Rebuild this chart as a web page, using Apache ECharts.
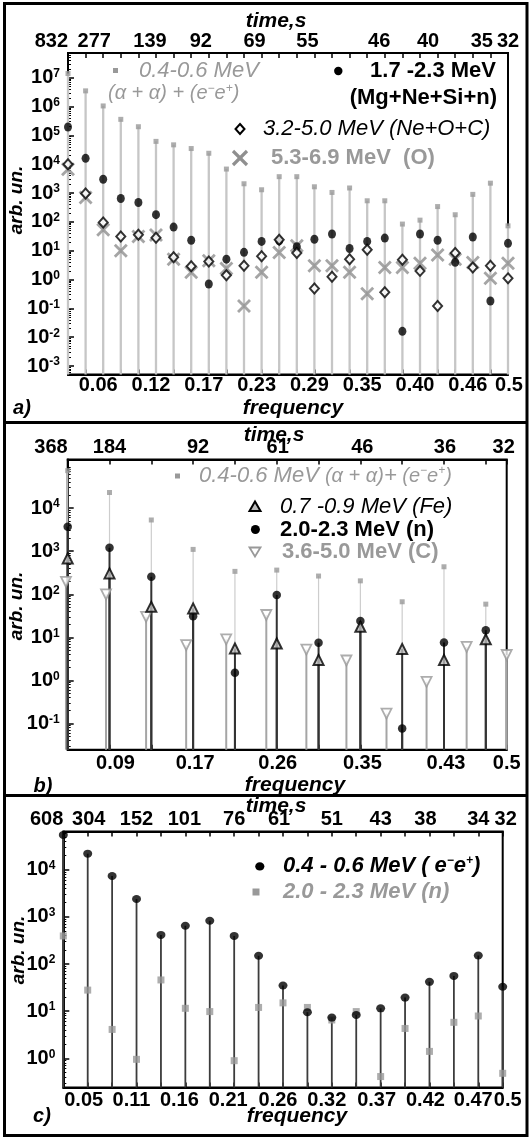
<!DOCTYPE html>
<html><head><meta charset="utf-8">
<script src="https://cdn.jsdelivr.net/npm/echarts@6/dist/echarts.min.js"></script>
<style>html,body{margin:0;padding:0;background:#fff}#c{width:529px;height:1138px}</style>
</head><body><div id="c"></div>
<script>
const FF = '"Liberation Sans", Arial, Helvetica, sans-serif';

// ---------- Panel a ----------
const freqA = [0.01923, 0.03846, 0.05769, 0.07692, 0.09615, 0.11538, 0.13462, 0.15385, 0.17308, 0.19231, 0.21154, 0.23077, 0.25, 0.26923, 0.28846, 0.30769, 0.32692, 0.34615, 0.36538, 0.38462, 0.40385, 0.42308, 0.44231, 0.46154, 0.48077, 0.5];
const a_ee = [1.4e7, 3.5e6, 1.05e6, 3.6e5, 2.0e5, 6.2e4, 4.7e4, 3.5e4, 2.4e4, 6.8e3, 2.1e3, 1.3e3, 3.7e3, 3.7e3, 1.65e3, 1.05e3, 1.5e3, 540, 540, 84, 115, 340, 177, 900, 2200, 73];
const a_mg = [1.96e5, 1.6e4, 3.0e3, 650, 470, 178, 66, 23, 0.7, 5.1, 8.8, 21, 22, 13.7, 25, 38, 12, 21, 27.5, 0.016, 38, 23, 4.0, 30, 0.18, 18];
const a_ne = [1e4, 960, 96, 31, 36, 28, 5.9, 2.9, 4.2, 1.4, 3.0, 6.4, 24, 8.3, 0.49, 1.25, 5.1, 10.9, 0.36, 4.9, 2.0, 0.12, 8.3, 2.6, 3.0, 1.1];
const a_o = [6.7e3, 700, 53, 10, 31, 35, 5.1, 1.8, 4.5, 2.4, 0.12, 1.8, 8.7, 14.8, 3.0, 3.0, 1.8, 0.32, 2.6, 2.6, 3.7, 7.1, 5.1, 3.9, 1.1, 3.7];
const a_botPos = [0.05769, 0.11538, 0.17308, 0.23077, 0.28846, 0.34615, 0.40385, 0.46154, 0.5];
const a_botLab = ['0.06', '0.12', '0.17', '0.23', '0.29', '0.35', '0.40', '0.46', '0.5'];
const a_topPos = [0.01923, 0.05769, 0.11538, 0.17308, 0.23077, 0.28846, 0.34615, 0.40385, 0.46154, 0.5];
const a_topLab = ['832', '277', '139', '92', '69', '55', '46', '40', '35', '32'];
const a_dec = [1e-3, 1e-2, 1e-1, 1, 10, 100, 1e3, 1e4, 1e5, 1e6, 1e7];

// ---------- Panel b ----------
const freqB = [0.04348, 0.08696, 0.13043, 0.17391, 0.21739, 0.26087, 0.30435, 0.34783, 0.3913, 0.43478, 0.47826];
const freqBC = [0.04167, 0.08333, 0.125, 0.16667, 0.20833, 0.25, 0.29167, 0.33333, 0.375, 0.41667, 0.45833, 0.5];
const b_ee = [7.4e4, 2.3e4, 5.3e3, 1.1e3, 340, 364, 265, 205, 67, 435, 59];
const b_fe = [680, 305, 51, 47, 5.5, 7.2, 3.0, 17.6, 5.4, 3.0, 9.0];
const b_n = [3.7e3, 1.2e3, 255, 31, 1.5, 96, 7.5, 24, 0.077, 7.6, 14.7];
const b_c = [195, 99, 30, 6.6, 9.0, 33, 5.2, 2.9, 0.17, 0.93, 6.0, 3.9];
const b_botPos = [0.08696, 0.17391, 0.26087, 0.34783, 0.43478, 0.5];
const b_botLab = ['0.09', '0.17', '0.26', '0.35', '0.43', '0.5'];
const b_topPos = [0.04348, 0.08696, 0.17391, 0.26087, 0.34783, 0.43478, 0.5];
const b_topLab = ['368', '184', '92', '61', '46', '36', '32'];
const b_dec = [0.1, 1, 10, 100, 1e3, 1e4];

// ---------- Panel c ----------
const freqC = [0.02632, 0.05263, 0.07895, 0.10526, 0.13158, 0.15789, 0.18421, 0.21053, 0.23684, 0.26316, 0.28947, 0.31579, 0.34211, 0.36842, 0.39474, 0.42105, 0.44737, 0.47368, 0.5];
const c_ee = [5.5e4, 2.2e4, 7.4e3, 2.4e3, 415, 650, 830, 395, 150, 35, 9.5, 7.3, 8.3, 11.5, 19.4, 42, 56, 152, 33];
const c_n = [395, 28, 4.1, 0.95, 46, 11.5, 9.8, 0.89, 12, 15, 12, 6.5, 9.8, 0.41, 4.3, 1.4, 5.8, 7.9, 0.48];
const c_botPos = [0.05263, 0.10526, 0.15789, 0.21053, 0.26316, 0.31579, 0.36842, 0.42105, 0.47368, 0.5];
const c_botLab = ['0.05', '0.11', '0.16', '0.21', '0.26', '0.32', '0.37', '0.42', '0.47', '0.5'];
const c_topPos = [0.02632, 0.05263, 0.10526, 0.15789, 0.21053, 0.26316, 0.31579, 0.36842, 0.42105, 0.47368, 0.5];
const c_topLab = ['608', '304', '152', '101', '76', '61', '51', '43', '38', '34', '32'];
const c_dec = [1, 10, 100, 1e3, 1e4];

// label nudges in px (layout only)
const a_botShift = [-5, -5, -5, -5, -5, -5, -5, -5, 1];
const a_topShift = [0, -9, -6, -8, -7, -7, 12, 8, 9, 0];
const b_botShift = [6, 2, 1, 2, 2, 0];
const b_topShift = [0, 0, 5, 1, 2, 1, -3];
const c_botShift = [-4, -5, -6, -6, -5, -5, -4, -4, -5, 5];
const c_topShift = [0, 1, 0, -1, 0, -4, 0, 0, -4, 0, 3];

// ---------- helpers ----------
const lblFont = { fontSize: 20, fontWeight: 'bold', fontFamily: FF, color: '#000' };
function labelCfg(pos, lab, shifts) {
  const rich = {};
  shifts.forEach((s, i) => {
    rich['t' + i] = Object.assign({ padding: s >= 0 ? [0, 0, 0, 2 * s] : [0, -2 * s, 0, 0] }, lblFont);
  });
  return {
    rich: rich,
    formatter: v => { const i = pos.findIndex(p => Math.abs(p - v) < 1e-6); return i < 0 ? '' : '{t' + i + '|' + lab[i] + '}'; }
  };
}
function minors(lo, hi) {
  const out = [];
  for (let e = Math.floor(Math.log10(lo)); e <= Math.ceil(Math.log10(hi)); e++)
    for (let m = 2; m <= 9; m++) { const v = m * Math.pow(10, e); if (v >= lo && v <= hi) out.push(v); }
  return out;
}
function xAxes(g, min, max, ticks, bp, bl, bsh, tp, tl, tsh, bm, tm) {
  const common = { type: 'value', gridIndex: g, min: min, max: max, splitLine: { show: false },
    axisLine: { show: true, onZero: false, lineStyle: { color: '#000', width: 2 } } };
  return [
    Object.assign({}, common, { position: 'bottom',
      axisTick: { show: true, inside: true, length: 5, customValues: ticks, lineStyle: { color: '#000', width: 1.5 } },
      axisLabel: Object.assign({ customValues: bp, margin: bm, hideOverlap: false, showMinLabel: true, showMaxLabel: true }, lblFont, labelCfg(bp, bl, bsh)) }),
    Object.assign({}, common, { position: 'top',
      axisTick: { show: true, inside: true, length: 5, customValues: ticks, lineStyle: { color: '#000', width: 1.5 } },
      axisLabel: Object.assign({ customValues: tp, margin: tm, alignMinLabel: 'right', hideOverlap: false, showMinLabel: true, showMaxLabel: true }, lblFont, labelCfg(tp, tl, tsh)) })
  ];
}
function yAxes(g, min, max, dec) {
  return [
    { type: 'log', logBase: 10, gridIndex: g, min: min, max: max, position: 'left', splitLine: { show: false },
      axisLine: { show: true, onZero: false, lineStyle: { color: '#000', width: 2 } },
      axisTick: { show: true, inside: true, length: 6, customValues: dec, lineStyle: { color: '#000', width: 1.5 } },
      axisLabel: { customValues: dec, margin: 8, hideOverlap: false, showMinLabel: true, showMaxLabel: true,
        formatter: v => '{b|10}{s|' + Math.round(Math.log10(v)) + '}',
        rich: { b: { fontSize: 20, fontWeight: 'bold', fontFamily: FF, color: '#000' },
                s: { fontSize: 12, fontWeight: 'bold', fontFamily: FF, color: '#000', verticalAlign: 'top' } } } },
    { type: 'log', logBase: 10, gridIndex: g, min: min, max: max, position: 'left', splitLine: { show: false },
      axisLine: { show: false },
      axisTick: { show: true, inside: true, length: 3, customValues: minors(min, max), lineStyle: { color: '#000', width: 1 } },
      axisLabel: { show: false } }
  ];
}
function stems(xi, yi, fr, vals, color, width, z) {
  return { type: 'custom', xAxisIndex: xi, yAxisIndex: yi, z: z, silent: true, clip: false,
    data: fr.map((f, i) => [f, vals[i]]), encode: { x: 0, y: 1 },
    renderItem: (params, api) => {
      const p = api.coord([api.value(0), api.value(1)]);
      const cs = params.coordSys;
      return { type: 'line', shape: { x1: p[0], y1: cs.y + cs.height, x2: p[0], y2: p[1] },
        style: { stroke: color, lineWidth: width } };
    } };
}
function pts(xi, yi, fr, vals, opt) {
  return Object.assign({ type: 'scatter', xAxisIndex: xi, yAxisIndex: yi, silent: true,
    data: fr.map((f, i) => [f, vals[i]]) }, opt);
}
const XPATH = 'path://M0,2L2,0L7,5L12,0L14,2L9,7L14,12L12,14L7,9L2,14L0,12L5,7Z';

const GRAY = '#999';
function txt(x, y, text, o) {
  return { type: 'text', x: x, y: y, rotation: o.rot || 0, z: 10,
    style: { text: text, fill: o.fill || '#000', fontSize: o.size || 22, fontWeight: o.bold ? 'bold' : 'normal',
      fontStyle: o.italic ? 'italic' : 'normal', fontFamily: FF, align: o.align || 'left', verticalAlign: 'middle',
      textAlign: o.align || 'left', textVerticalAlign: 'middle', rich: o.rich } };
}
const supRich = (size, color, bold, italic) => ({
  p: { fontSize: 12, fontWeight: bold ? 'bold' : 'normal', fontStyle: italic ? 'italic' : 'normal', fontFamily: FF, fill: color, color: color, verticalAlign: 'top' },
  m: { fontSize: size, fontWeight: bold ? 'bold' : 'normal', fontStyle: italic ? 'italic' : 'normal', fontFamily: FF, fill: color, color: color },
  s: { fontSize: size - 2, fontStyle: 'italic', fontFamily: FF, fill: color, color: color }
});

const graphics = [
  { type: 'rect', shape: { x: 4.5, y: 3.5, width: 522.5, height: 1132 }, style: { fill: 'none', stroke: '#000', lineWidth: 3 }, z: 20 },
  { type: 'line', shape: { x1: 4.5, y1: 422.5, x2: 527, y2: 422.5 }, style: { stroke: '#000', lineWidth: 3 }, z: 20 },
  { type: 'line', shape: { x1: 4.5, y1: 795.5, x2: 527, y2: 795.5 }, style: { stroke: '#000', lineWidth: 3 }, z: 20 },
  // axis titles
  txt(276, 21, 'time,s', { bold: true, italic: true, size: 21, align: 'center' }),
  txt(274, 435, 'time,s', { bold: true, italic: true, size: 21, align: 'center' }),
  txt(276, 806, 'time,s', { bold: true, italic: true, size: 21, align: 'center' }),
  txt(293, 408, 'frequency', { bold: true, italic: true, size: 21, align: 'center' }),
  txt(295, 785, 'frequency', { bold: true, italic: true, size: 21, align: 'center' }),
  txt(297, 1116, 'frequency', { bold: true, italic: true, size: 21, align: 'center' }),
  txt(17, 200, 'arb. un.', { bold: true, italic: true, size: 19, align: 'center', rot: Math.PI / 2 }),
  txt(17, 606, 'arb. un.', { bold: true, italic: true, size: 19, align: 'center', rot: Math.PI / 2 }),
  txt(19, 950, 'arb. un.', { bold: true, italic: true, size: 19, align: 'center', rot: Math.PI / 2 }),
  txt(22, 408, 'a)', { bold: true, italic: true, size: 20, align: 'center' }),
  txt(43, 786, 'b)', { bold: true, italic: true, size: 20, align: 'center' }),
  txt(42, 1116, 'c)', { bold: true, italic: true, size: 20, align: 'center' }),
  // legend a
  { type: 'rect', shape: { x: 113, y: 68, width: 5, height: 5 }, style: { fill: GRAY }, z: 10 },
  txt(139, 71, '0.4-0.6 MeV', { italic: true, fill: GRAY }),
  txt(108, 93, '{m|(α + α) + (e}{p|−}{m|e}{p|+}{m|)}', { italic: true, fill: GRAY, size: 20, rich: supRich(20, GRAY, false, true) }),
  { type: 'circle', shape: { cx: 338.3, cy: 71, r: 4.2 }, style: { fill: '#000' }, z: 10 },
  txt(496, 71, '1.7 -2.3 MeV', { bold: true, align: 'right' }),
  txt(497, 98, '(Mg+Ne+Si+n)', { bold: true, align: 'right' }),
  { type: 'polygon', shape: { points: [[240, 124], [244.5, 129], [240, 134], [235.5, 129]] }, style: { fill: '#fff', stroke: '#000', lineWidth: 2 }, z: 10 },
  txt(263, 129, '3.2-5.0 MeV (Ne+O+C)', { italic: true }),
  { type: 'line', shape: { x1: 233, y1: 151, x2: 247, y2: 165 }, style: { stroke: '#8f8f8f', lineWidth: 3.2 }, z: 10 },
  { type: 'line', shape: { x1: 247, y1: 151, x2: 233, y2: 165 }, style: { stroke: '#8f8f8f', lineWidth: 3.2 }, z: 10 },
  txt(271, 158, '5.3-6.9 MeV  (O)', { bold: true, fill: GRAY }),
  // legend b
  { type: 'rect', shape: { x: 175, y: 473.5, width: 5, height: 5 }, style: { fill: GRAY }, z: 10 },
  txt(199, 476, '{m|0.4-0.6 MeV }{s|(α + α)}{m|+}{s| (e}{p|−}{s|e}{p|+}{s|)}', { italic: true, fill: GRAY, rich: supRich(22, GRAY, false, true) }),
  { type: 'polygon', shape: { points: [[255, 501.6], [260.5, 511], [249.5, 511]] }, style: { fill: '#bbb', stroke: '#000', lineWidth: 2 }, z: 10 },
  txt(280, 507, '0.7 -0.9 MeV (Fe)', { italic: true }),
  { type: 'circle', shape: { cx: 255.4, cy: 529.5, r: 4.5 }, style: { fill: '#000' }, z: 10 },
  txt(280, 530, '2.0-2.3 MeV (n)', { bold: true }),
  { type: 'polygon', shape: { points: [[249.5, 547.5], [260.5, 547.5], [255, 556.5]] }, style: { fill: '#fff', stroke: GRAY, lineWidth: 1.8 }, z: 10 },
  txt(282, 552, '3.6-5.0 MeV (C)', { bold: true, fill: GRAY }),
  // legend c
  { type: 'ellipse', shape: { cx: 259.8, cy: 866.4, rx: 4.6, ry: 4.1 }, style: { fill: '#000' }, z: 10 },
  txt(283, 866, '{m|0.4 - 0.6 MeV ( e}{p|−}{m|e}{p|+}{m|)}', { bold: true, italic: true, rich: supRich(22, '#000', true, true) }),
  { type: 'rect', shape: { x: 252.5, y: 888.5, width: 7, height: 7 }, style: { fill: GRAY }, z: 10 },
  txt(283, 892, '2.0 - 2.3 MeV (n)', { bold: true, italic: true, fill: GRAY })
];

const option = {
  animation: false,
  backgroundColor: '#fff',
  grid: [
    { left: 68, top: 53, width: 440, height: 321.5, show: true, borderColor: '#000', borderWidth: 2, outerBoundsMode: 'none', containLabel: false },
    { left: 67.7, top: 459.4, width: 439, height: 290.3, show: true, borderColor: '#000', borderWidth: 2, outerBoundsMode: 'none', containLabel: false },
    { left: 63.3, top: 831.5, width: 439.4, height: 256, show: true, borderColor: '#000', borderWidth: 2, outerBoundsMode: 'none', containLabel: false }
  ],
  xAxis: [].concat(
    xAxes(0, 0.01923, 0.5, freqA, a_botPos, a_botLab, a_botShift, a_topPos, a_topLab, a_topShift, 1, 2),
    xAxes(1, 0.04348, 0.5, freqB.concat([0.5]), b_botPos, b_botLab, b_botShift, b_topPos, b_topLab, b_topShift, 4, 2),
    xAxes(2, 0.02632, 0.5, freqC, c_botPos, c_botLab, c_botShift, c_topPos, c_topLab, c_topShift, 3, 2)
  ),
  yAxis: [].concat(
    yAxes(0, 5.1e-4, 7.2e7, a_dec),
    yAxes(1, 0.0247, 1.35e5, b_dec),
    yAxes(2, 0.24, 6.5e4, c_dec)
  ),
  graphic: { elements: graphics },
  series: [
    // panel a
    stems(0, 0, freqA, a_ee, '#c6c6c6', 2.3, 1),
    pts(0, 0, freqA, a_o, { symbol: XPATH, symbolSize: 14, itemStyle: { color: '#8f8f8f' }, z: 3 }),
    pts(0, 0, freqA, a_ee, { symbol: 'rect', symbolSize: 5, itemStyle: { color: GRAY }, z: 2 }),
    pts(0, 0, freqA, a_mg, { symbol: 'circle', symbolSize: [8, 9], itemStyle: { color: '#000' }, z: 4 }),
    pts(0, 0, freqA, a_ne, { symbol: 'diamond', symbolSize: [9, 10], itemStyle: { color: '#fff', borderColor: '#000', borderWidth: 2 }, z: 5 }),
    // panel b
    stems(2, 2, freqB, b_ee, '#cdcdcd', 1.2, 1),
    stems(2, 2, freqBC, b_c, '#a5a5a5', 2, 1),
    stems(2, 2, freqB, b_n, '#333', 2, 1),
    stems(2, 2, freqB, b_fe, '#333', 2, 1),
    pts(2, 2, freqBC, b_c, { symbol: 'triangle', symbolRotate: 180, symbolSize: 10, clip: false, itemStyle: { color: '#fff', borderColor: GRAY, borderWidth: 1.8 }, z: 2 }),
    pts(2, 2, freqB, b_ee, { symbol: 'rect', symbolSize: 5, itemStyle: { color: GRAY }, z: 2 }),
    pts(2, 2, freqB, b_n, { symbol: 'circle', symbolSize: 8.5, itemStyle: { color: '#000' }, z: 3 }),
    pts(2, 2, freqB, b_fe, { symbol: 'triangle', symbolSize: 10, itemStyle: { color: '#bbb', borderColor: '#000', borderWidth: 2 }, z: 4 }),
    // panel c
    stems(4, 4, freqC, c_ee, '#3c3c3c', 1.8, 1),
    pts(4, 4, freqC, c_n, { symbol: 'rect', symbolSize: 7, itemStyle: { color: GRAY }, z: 2 }),
    pts(4, 4, freqC, c_ee, { symbol: 'circle', symbolSize: [9, 8], itemStyle: { color: '#000' }, z: 3 })
  ]
};
const chart = echarts.init(document.getElementById('c'), null, { renderer: 'canvas', width: 529, height: 1138 });
chart.setOption(option);
</script></body></html>
